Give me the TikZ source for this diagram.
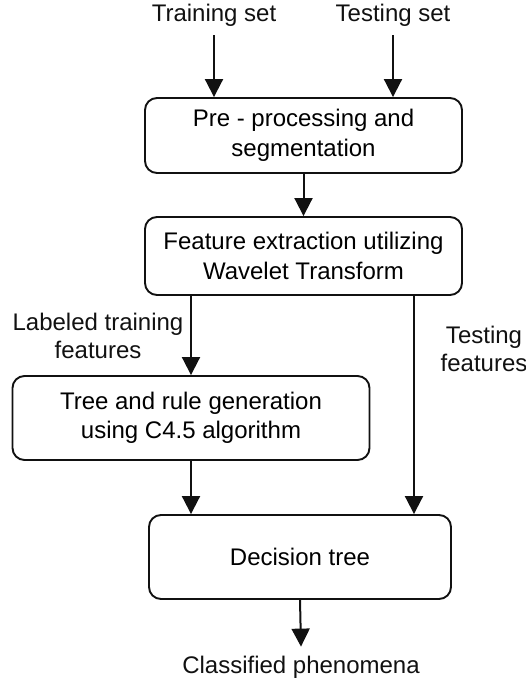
\documentclass[tikz,border=0pt]{standalone}
\usepackage{fontspec}
\setmainfont{Liberation Sans}
\usepackage{xcolor}
\usepackage{tikz}
\usetikzlibrary{arrows.meta}
\definecolor{ink}{HTML}{111111}
\tikzset{
  box/.style={draw=ink, line width=1.9pt, rounded corners=12pt, align=center, font=\fontsize{24}{29.5}\selectfont, inner sep=0pt},
  lab/.style={text=ink, align=center, font=\fontsize{24}{28.5}\selectfont, inner sep=0pt},
  arr/.style={draw=ink, line width=2pt, -{Triangle[length=18pt,width=18pt]}},
}
\begin{document}
\begin{tikzpicture}[x=1pt,y=-1pt]
  \useasboundingbox (0,0) rectangle (526,685);
  % inputs
  \node[lab] (train) at (214,15) {Training set};
  \node[lab] (testset) at (393,15) {Testing set};
  % boxes
  \node[box, minimum width=317pt, minimum height=75pt] (pre) at (303.5,135.5) {Pre - processing and\\segmentation};
  \node[box, minimum width=317pt, minimum height=78pt] (feat) at (303.5,256) {Feature extraction utilizing\\Wavelet Transform};
  \node[box, minimum width=357pt, minimum height=84pt] (tree) at (191,418) {Tree and rule generation\\using C4.5 algorithm};
  \node[box, minimum width=302pt, minimum height=84pt] (dec) at (300,557) {Decision tree};
  % side labels
  \node[lab] (labtr) at (98,336) {Labeled training\\features};
  \node[lab] (testf) at (484,349) {Testing\\features};
  \node[lab] (out) at (301,667) {Classified phenomena};
  \coordinate (tfx) at (414,0);
  % connectors
  \draw[arr] ([yshift=-9pt]train.south) -- (train.south |- pre.north);
  \draw[arr] ([yshift=-9pt]testset.south) -- (testset.south |- pre.north);
  \draw[arr] (pre.south -| feat.north) -- (feat.north);
  \draw[arr] (feat.south -| tree.north) -- (tree.north);
  \draw[arr] (feat.south -| tfx) -- (dec.north -| tfx);
  \draw[arr] (tree.south) -- (tree.south |- dec.north);
  \draw[arr] (dec.south) -- ([yshift=9pt]out.north);
\end{tikzpicture}
\end{document}
